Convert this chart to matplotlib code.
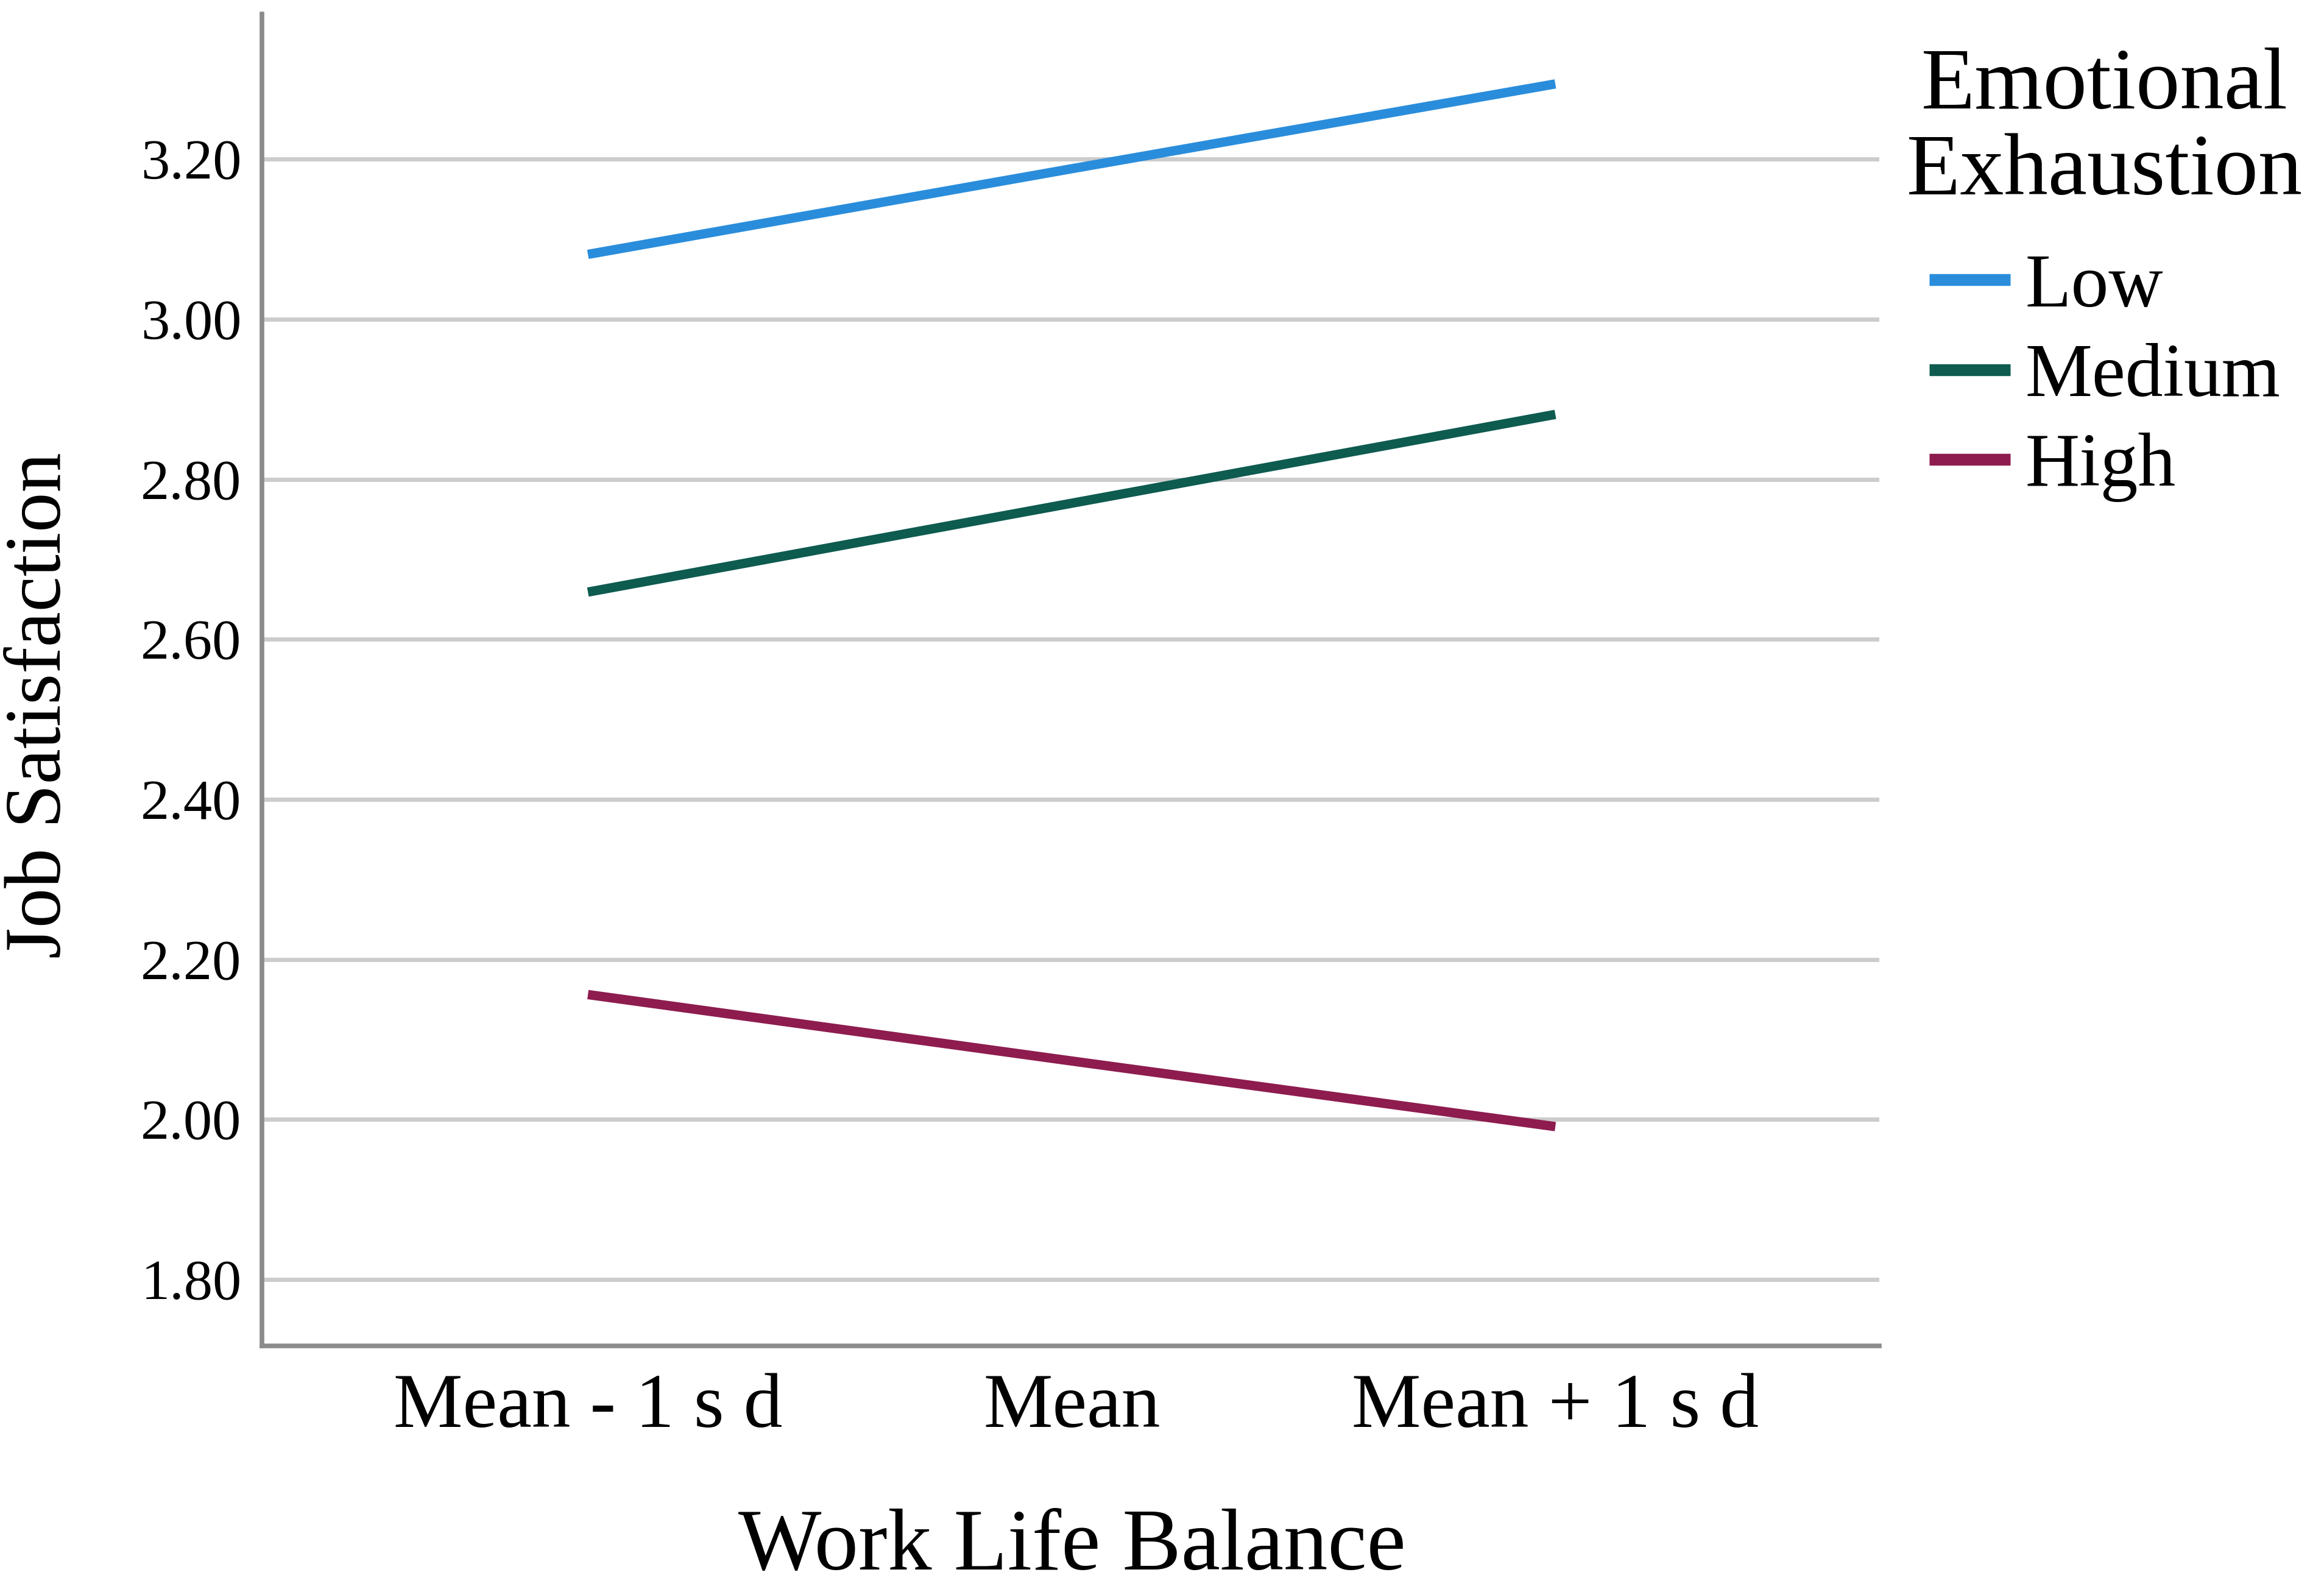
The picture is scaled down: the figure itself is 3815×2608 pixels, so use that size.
import numpy as np
from matplotlib import pyplot as plt

plt.rcParams['font.family'] = ['Liberation Serif', 'DejaVu Serif']

# data
wlb_levels = ['Mean - 1 s d', 'Mean', 'Mean + 1 s d']
ee_groups = ['Low', 'Medium', 'High']
low_js = [3.081, 3.188, 3.294]
medium_js = [2.659, 2.770, 2.881]
high_js = [2.156, 2.073, 1.991]
yticks = [1.80, 2.00, 2.20, 2.40, 2.60, 2.80, 3.00, 3.20]

colors = ['#2a8ddb', '#0e5b50', '#8e1c4e']

fig = plt.figure(figsize=(38.15, 26.08), dpi=100)
ax = fig.add_axes([0.1127, 0.153, 0.696, 0.838])

x = np.arange(len(wlb_levels))
for vals, name, c in zip([low_js, medium_js, high_js], ee_groups, colors):
    ax.plot(x, vals, color=c, lw=11, label=name, solid_capstyle='butt', zorder=3)

ax.set_xlim(-0.674, 2.67)
ax.set_ylim(1.717, 3.381)
ax.set_xticks(x)
ax.set_xticklabels(wlb_levels, fontsize=92)
ax.set_yticks(yticks)
ax.set_yticklabels(['%.2f' % v for v in yticks], fontsize=68)
ax.tick_params(axis='y', length=0, pad=24)
ax.tick_params(axis='x', length=0, pad=32)

ax.yaxis.grid(True, color='#cccccc', lw=5)
ax.set_axisbelow(True)
for s in ['top', 'right']:
    ax.spines[s].set_visible(False)
for s in ['left', 'bottom']:
    ax.spines[s].set_color('#8c8c8c')
    ax.spines[s].set_linewidth(5.5)

ax.set_xlabel('Work Life Balance', fontsize=104)
ax.xaxis.set_label_coords(0.501, -0.122)
ax.set_ylabel('Job Satisfaction', fontsize=94)
ax.yaxis.set_label_coords(-0.114, 0.481)

leg = ax.legend(title='Emotional\nExhaustion', fontsize=89, title_fontsize=104,
                frameon=False, loc='upper left', bbox_to_anchor=(0.8205, 0.970),
                bbox_transform=fig.transFigure, borderpad=0, borderaxespad=0,
                handlelength=1.07, handletextpad=0.2, labelspacing=0.27,
                alignment='center')
leg.get_title().set_multialignment('center')
leg.get_title().set_linespacing(1.1)
leg._legend_box.sep = 47
for h in leg.legend_handles:
    h.set_linewidth(14)

fig.savefig('out.png', dpi=100)
